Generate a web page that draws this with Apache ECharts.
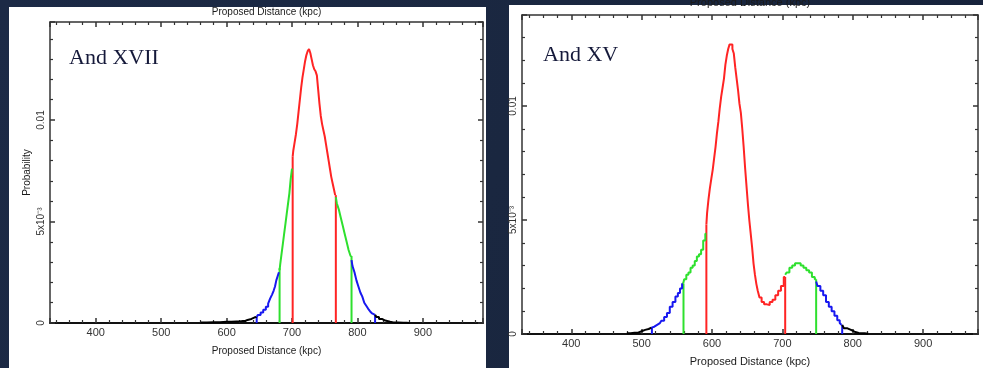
<!DOCTYPE html>
<html>
<head>
<meta charset="utf-8">
<script src="https://cdn.jsdelivr.net/npm/echarts@6/dist/echarts.min.js"></script>
<style>
html,body{margin:0;padding:0;background:#1b2842;}
#main{width:983px;height:368px;}
</style>
</head>
<body>
<div id="main"></div>
<script>
// ---- And XVII : [distance kpc, probability] ----
const xviiBlackL = [[560,0.00002],[580,0.00004],[600,0.00006],[615,0.00008],[625,0.0001],[632,0.00015],[638,0.0002],[643,0.00028],[646,0.0003]]
const xviiBlueL = [[646,0.0003],[650,0.0004],[654,0.00052],[658,0.00065],[662,0.0008],[665,0.00095],[668,0.0012],[671,0.0014],[673,0.0016],[675,0.0018],[677,0.0021],[679,0.0023],[681,0.0025]]
const xviiGreenL = [[681,0.0026],[683,0.0029],[685,0.0034],[687,0.0039],[689,0.0044],[691,0.0049],[693,0.0054],[695,0.0059],[697,0.0064],[699,0.0071],[701,0.0076]]
const xviiRed = [[701,0.0082],[703,0.0085],[705,0.0089],[707,0.0093],[709,0.0098],[711,0.0104],[713,0.011],[715,0.0116],[717,0.0121],[719,0.0125],[721,0.0129],[723,0.0132],[725,0.0134],[727,0.0135],[729,0.0133],[731,0.013],[733,0.0127],[735,0.0125],[737,0.0124],[739,0.0122],[741,0.0115],[743,0.0108],[745,0.0102],[747,0.0098],[749,0.0095],[751,0.0092],[753,0.0088],[755,0.0084],[757,0.008],[759,0.0076],[761,0.0072],[763,0.0069],[765,0.0066],[767,0.0063]]
const xviiGreenR = [[767,0.0062],[770,0.0059],[773,0.0056],[776,0.0052],[779,0.0048],[782,0.0044],[785,0.004],[788,0.0036],[791,0.0033]]
const xviiBlueR = [[791,0.0031],[794,0.0028],[797,0.0025],[800,0.0021],[803,0.0018],[806,0.0015],[809,0.0013],[812,0.001],[815,0.00085],[818,0.0007],[821,0.00057],[824,0.00047],[827,0.0004]]
const xviiBlackR = [[827,0.0004],[831,0.0003],[835,0.0002],[840,0.00012],[845,0.00006],[855,0.00003],[870,0.00001],[880,0]]
const xviiCutX = [646,681,701,767,791,827]
const xviiCutY = [0.0003,0.0027,0.0082,0.0063,0.0033,0.0004]

// ---- And XV ----
const xvBlackL = [[479,0.00003],[490,0.00006],[500,0.00012],[505,0.00018],[510,0.00022],[514,0.00028]]
const xvBlueL = [[514,0.00028],[518,0.00032],[522,0.0004],[526,0.00048],[530,0.00058],[534,0.00075],[538,0.00092],[542,0.0012],[546,0.0014],[550,0.00164],[553,0.0018],[556,0.002],[559,0.0022]]
const xvGreenL = [[559,0.0022],[562,0.0024],[565,0.0026],[568,0.0027],[571,0.0029],[574,0.003],[577,0.0032],[580,0.0034],[583,0.0035],[586,0.0037],[589,0.0041],[592,0.0044]]
const xvRed = [[592,0.0048],[594,0.0053],[596,0.0059],[598,0.0064],[600,0.0068],[602,0.0072],[604,0.0077],[606,0.0082],[608,0.0088],[610,0.0093],[612,0.0099],[614,0.0104],[616,0.0108],[618,0.0112],[620,0.0118],[622,0.0122],[624,0.0125],[626,0.0127],[628,0.0127],[630,0.0125],[632,0.0123],[634,0.0117],[636,0.0112],[638,0.0107],[640,0.0101],[642,0.0097],[644,0.009],[646,0.0082],[648,0.0073],[650,0.0065],[652,0.0057],[654,0.005],[656,0.0044],[658,0.0038],[660,0.0031],[662,0.0026],[664,0.0022],[666,0.0019],[669,0.0016],[672,0.0014],[676,0.0013],[680,0.00127],[684,0.0014],[688,0.0015],[692,0.0017],[696,0.0019],[700,0.0021],[704,0.0025]]
const xvGreenR = [[704,0.0026],[708,0.0027],[712,0.0029],[716,0.003],[720,0.0031],[724,0.0031],[728,0.003],[732,0.0029],[736,0.0028],[740,0.0027],[744,0.0025],[748,0.0024]]
const xvBlueR = [[748,0.0023],[752,0.0021],[756,0.0019],[760,0.0017],[764,0.0014],[768,0.0012],[772,0.001],[776,0.0008],[780,0.0006],[783,0.00048],[785,0.0004]]
const xvBlackR = [[785,0.0004],[790,0.00025],[795,0.00018],[800,0.0001],[805,0.00005],[812,0.00003],[822,0.00001]]
const xvCutX = [514.6,559.5,592,704,748,785]
const xvCutY = [0.0003,0.0022,0.0048,0.0025,0.0024,0.0004]

const yTickLabels = ['0','5x10\u207B\u00B3','0.01']
const xName = 'Proposed Distance (kpc)'

const RED = '#ff2424', GREEN = '#2ee02e', BLUE = '#1818f0', BLACK = '#000'
const cutColors = [BLUE, GREEN, RED, RED, GREEN, BLUE]
const axisColor = '#333'

const makeXAxis = (gi, cfg, pos) => ({
  type:'value',
  gridIndex:gi,
  position:pos,
  min:cfg.xMin,
  max:cfg.xMax,
  splitNumber:6,
  name:xName,
  nameLocation:'middle',
  nameGap: pos === 'top' ? cfg.topGap : cfg.bottomGap,
  nameTextStyle:{ color:'#1a1a1a', fontSize:cfg.nameSize, fontFamily:'Liberation Sans' },
  axisLine:{ show:true, onZero:false, lineStyle:{ color: pos === 'bottom' ? '#111' : axisColor, width: pos === 'bottom' ? 2 : 1.5 } },
  axisTick:{ show:true, inside:true, length:5, lineStyle:{ color:axisColor, width:1.5 } },
  minorTick:{ show:true, splitNumber:5, length:3, lineStyle:{ color:axisColor, width:1.2 } },
  axisLabel:{
    show: pos === 'bottom',
    showMinLabel:false,
    showMaxLabel:false,
    margin:4,
    fontSize:11,
    color:'#333',
    fontFamily:'Liberation Sans'
  },
  splitLine:{ show:false }
})

const makeYAxis = (gi, cfg, pos) => ({
  type:'value',
  gridIndex:gi,
  position:pos,
  min:0,
  max:cfg.yMax,
  interval:0.005,
  name: pos === 'left' ? cfg.yName : '',
  nameLocation:'middle',
  nameGap:18,
  nameTextStyle:{ color:'#1a1a1a', fontSize:10, fontFamily:'Liberation Sans' },
  axisLine:{ show:true, onZero:false, lineStyle:{ color:axisColor, width:1.5 } },
  axisTick:{ show:true, inside:true, length:5, lineStyle:{ color:axisColor, width:1.5 } },
  minorTick:{ show:true, splitNumber:5, length:3, lineStyle:{ color:axisColor, width:1.2 } },
  axisLabel:{
    show: pos === 'left',
    rotate:90,
    margin:4,
    showMaxLabel:false,
    fontSize:10,
    color:'#333',
    fontFamily:'Liberation Sans',
    formatter:(v) => {
      const i = Math.round(v / 0.005)
      return Math.abs(v - i * 0.005) < 1e-9 && yTickLabels[i] ? yTickLabels[i] : ''
    }
  },
  splitLine:{ show:false }
})

// 阶梯曲线
const stepLine = (gi, data, color) => ({
  type:'line',
  xAxisIndex:gi * 2,
  yAxisIndex:gi * 2,
  data:data,
  step:'middle',
  showSymbol:false,
  symbol:'none',
  silent:true,
  z:3,
  lineStyle:{ color:color, width:2 }
})

// 竖直分界线
const dropLines = (gi, xs, hs) => xs.map((x, i) => ({
  type:'line',
  xAxisIndex:gi * 2,
  yAxisIndex:gi * 2,
  data:[[x, 0],[x, hs[i]]],
  showSymbol:false,
  symbol:'none',
  silent:true,
  z:3,
  lineStyle:{ color:cutColors[i], width:2 }
}))

const panels = [
  { xMin:330, xMax:992, yMax:0.01483, yName:'Probability', topGap:5, bottomGap:23, nameSize:10,
    segs:[[xviiBlackL,BLACK],[xviiBlueL,BLUE],[xviiGreenL,GREEN],[xviiRed,RED],[xviiGreenR,GREEN],[xviiBlueR,BLUE],[xviiBlackR,BLACK]],
    cutX:xviiCutX, cutY:xviiCutY },
  { xMin:330, xMax:978, yMax:0.01399, yName:'', topGap:7, bottomGap:22, nameSize:11,
    segs:[[xvBlackL,BLACK],[xvBlueL,BLUE],[xvGreenL,GREEN],[xvRed,RED],[xvGreenR,GREEN],[xvBlueR,BLUE],[xvBlackR,BLACK]],
    cutX:xvCutX, cutY:xvCutY }
]

const xAxes = [], yAxes = [], series = []
panels.forEach((p, gi) => {
  xAxes.push(makeXAxis(gi, p, 'bottom'), makeXAxis(gi, p, 'top'))
  yAxes.push(makeYAxis(gi, p, 'left'), makeYAxis(gi, p, 'right'))
  dropLines(gi, p.cutX, p.cutY).forEach(s => series.push(s))
  p.segs.forEach(s => series.push(stepLine(gi, s[0], s[1])))
})

const option = {
  animation:false,
  backgroundColor:{
    type:'linear', x:0, y:0, x2:1, y2:1,
    colorStops:[{ offset:0, color:'#1c2a46' },{ offset:0.5, color:'#1a2740' },{ offset:1, color:'#16223a' }]
  },
  graphic:[
    { type:'rect', z:-10, shape:{ x:9, y:7, width:477, height:361 }, style:{ fill:'#fff' } },
    { type:'rect', z:-10, shape:{ x:509, y:5, width:474, height:363 }, style:{ fill:'#fff' } },
    { type:'text', z:10, x:69, y:58, style:{ text:'And XVII', font:'22px "Liberation Serif"', fill:'#15193a', verticalAlign:'middle' } },
    { type:'text', z:10, x:543, y:55, style:{ text:'And XV', font:'22px "Liberation Serif"', fill:'#15193a', verticalAlign:'middle' } }
  ],
  grid:[
    { left:50, top:22, width:433, height:301, containLabel:false, outerBoundsMode:'none' },
    { left:522, top:15, width:456, height:319, containLabel:false, outerBoundsMode:'none' }
  ],
  xAxis:xAxes,
  yAxis:yAxes,
  series:series
}

const chart = echarts.init(document.getElementById('main'))
chart.setOption(option)
</script>
</body>
</html>
